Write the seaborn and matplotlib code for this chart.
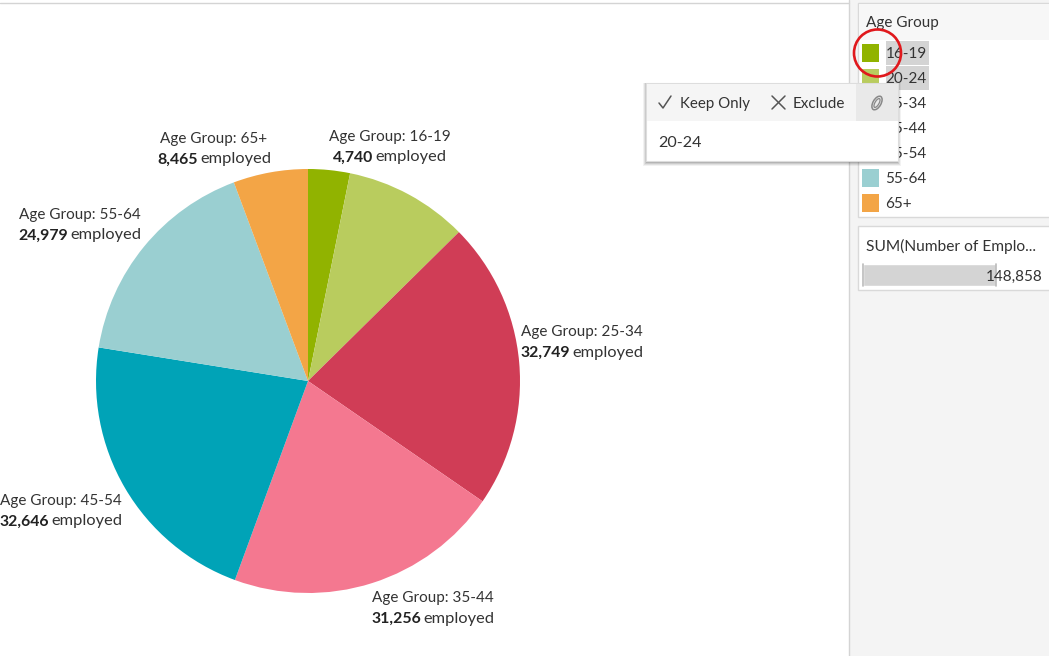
#!/usr/bin/env python3

import matplotlib
matplotlib.use("Agg")
import matplotlib.pyplot as plt
from matplotlib.patches import Rectangle, Circle, Ellipse
import seaborn as sns

age_groups = ['16-19', '20-24', '25-34', '35-44', '45-54', '55-64', '65+']
employed = [4740, 14023, 32749, 31256, 32646, 24979, 8465]
slice_colors = ['#91B300', '#B9CC5E', '#D03D56', '#F47890', '#00A3B7', '#9ACFD1', '#F3A546']
total_employed = 148858

W, H = 1049, 656
TEXT = '#333333'
FS = 11.0

# label centres, in pixels
label_pos = {
    '16-19': (390, 136.5), '20-24': None, '25-34': (582, 331.5), '35-44': (433, 597.5),
    '45-54': (61, 500.5), '55-64': (80, 214.5), '65+': (214, 138.5),
}
legend_y = [53, 78, 103, 128, 153, 178, 203]


def axes_px(fig, x0, y0, x1, y1):
    return fig.add_axes([x0 / W, 1 - y1 / H, (x1 - x0) / W, (y1 - y0) / H])


def draw_label(ax, fig, group, value, x, y):
    """Two line label, second line has the number in bold."""
    ax.text(x, y + 0.5, f"Age Group: {group}", ha='center', va='center', fontsize=FS, color=TEXT)
    rend = fig.canvas.get_renderer()
    num = ax.text(0, y + 21, f"{value:,}", ha='left', va='center', fontsize=11.4,
                  fontweight='bold', color='#222222')
    rest = ax.text(0, y + 21, "employed", ha='left', va='center', fontsize=11.8, color=TEXT)
    w_num = num.get_window_extent(rend).width
    w_rest = rest.get_window_extent(rend).width
    gap = 2.5
    left = x - (w_num + gap + w_rest) / 2
    num.set_x(left)
    rest.set_x(left + w_num + gap)


sns.set_theme(style="white")
plt.rcParams['font.family'] = ['Lato', 'DejaVu Sans']

fig = plt.figure(figsize=(W / 100, H / 100), dpi=100, facecolor='white')

# chrome in pixel coordinates
bg = fig.add_axes([0, 0, 1, 1], zorder=0)
bg.set_xlim(0, W)
bg.set_ylim(H, 0)
bg.axis('off')
bg.add_patch(Rectangle((849, 0), W - 849, H, fc='#F4F4F4', ec='none'))
bg.plot([849, 849], [0, H], color='#D4D4D4', lw=1)
bg.plot([0, 849], [2.5, 2.5], color='#D4D4D4', lw=1)
bg.add_patch(Rectangle((858, 2.5), 192, 214, fc='white', ec='#D9D9D9', lw=1))
bg.add_patch(Rectangle((859, 3.5), 190, 36, fc='#F7F7F7', ec='none'))
bg.add_patch(Rectangle((858, 226), 192, 64, fc='white', ec='#D9D9D9', lw=1))

bg.text(866, 23, 'Age Group', ha='left', va='center', fontsize=FS, color=TEXT)
for i, (group, color, y) in enumerate(zip(age_groups, slice_colors, legend_y)):
    if i < 2:
        bg.add_patch(Rectangle((886, y - 12), 43, 24, fc='#D4D4D4', ec='none'))
    bg.add_patch(Rectangle((862, y - 9.5), 17, 18, fc=color, ec='none'))
    bg.text(885.5, y + 1, group, ha='left', va='center', fontsize=FS, color=TEXT)
bg.text(866, 246, 'SUM(Number of Emplo...', ha='left', va='center', fontsize=11.2, color=TEXT)

# pie
pie_ax = axes_px(fig, 96, 169, 520, 593)
pie_ax.pie(employed, colors=slice_colors, startangle=90, counterclock=False, radius=1,
           wedgeprops={'linewidth': 0})
pie_ax.set_xlim(-1, 1)
pie_ax.set_ylim(-1, 1)
pie_ax.set_zorder(1)

# total bar
bar_ax = axes_px(fig, 862.5, 264, 996, 286)
sns.barplot(x=[total_employed], color='#D4D4D4', saturation=1, width=1, orient='h', ax=bar_ax)
bar_ax.set_xlim(0, total_employed)
bar_ax.axis('off')
bar_ax.set_zorder(1)

# overlay: labels, popup, red circle
top = fig.add_axes([0, 0, 1, 1], zorder=2)
top.set_xlim(0, W)
top.set_ylim(H, 0)
top.axis('off')
top.patch.set_alpha(0)

for group, value in zip(age_groups, employed):
    pos = label_pos[group]
    if pos is not None:
        draw_label(top, fig, group, value, pos[0], pos[1])

top.plot([863, 863], [264, 286], color='#BBBBBB', lw=1.2)
top.plot([996, 996], [264, 286], color='#BBBBBB', lw=1.2)
top.text(1042.5, 277, f"{total_employed:,}", ha='right', va='center', fontsize=FS, color=TEXT)

# popup with soft shadow
for off, alpha in [(4, 0.05), (3, 0.07), (2, 0.09), (1, 0.12)]:
    top.add_patch(Rectangle((646 - off + 1, 83), 252 + 2 * off - 2, 78 + off + 1,
                            fc='black', ec='none', alpha=alpha))
top.add_patch(Rectangle((646, 83), 252, 78, fc='white', ec='#DDDDDD', lw=0.8))
top.add_patch(Rectangle((646.5, 83.5), 210, 37.5, fc='#F5F5F5', ec='none'))
top.add_patch(Rectangle((856, 83.5), 41.5, 37.5, fc='#E9E9E9', ec='none'))
top.plot([659, 663, 671], [103, 108, 96], color='#555555', lw=1.1)
top.plot([772, 785], [96, 109], color='#555555', lw=1.1)
top.plot([772, 785], [109, 96], color='#555555', lw=1.1)
top.text(680.5, 104, 'Keep Only', ha='left', va='center', fontsize=10.8, color=TEXT)
top.text(793, 104, 'Exclude', ha='left', va='center', fontsize=FS, color=TEXT)
top.text(658, 143, '20-24', ha='left', va='center', fontsize=11.6, color=TEXT)
top.add_patch(Ellipse((877, 103), 8, 15, angle=30, fc='none', ec='#888888', lw=1.1))
top.add_patch(Ellipse((877, 103), 4, 10, angle=30, fc='none', ec='#888888', lw=0.9))

top.add_patch(Circle((877.5, 53), 23.5, fc='none', ec='#E0181C', lw=1.9))

fig.savefig('out.png', dpi=100)
